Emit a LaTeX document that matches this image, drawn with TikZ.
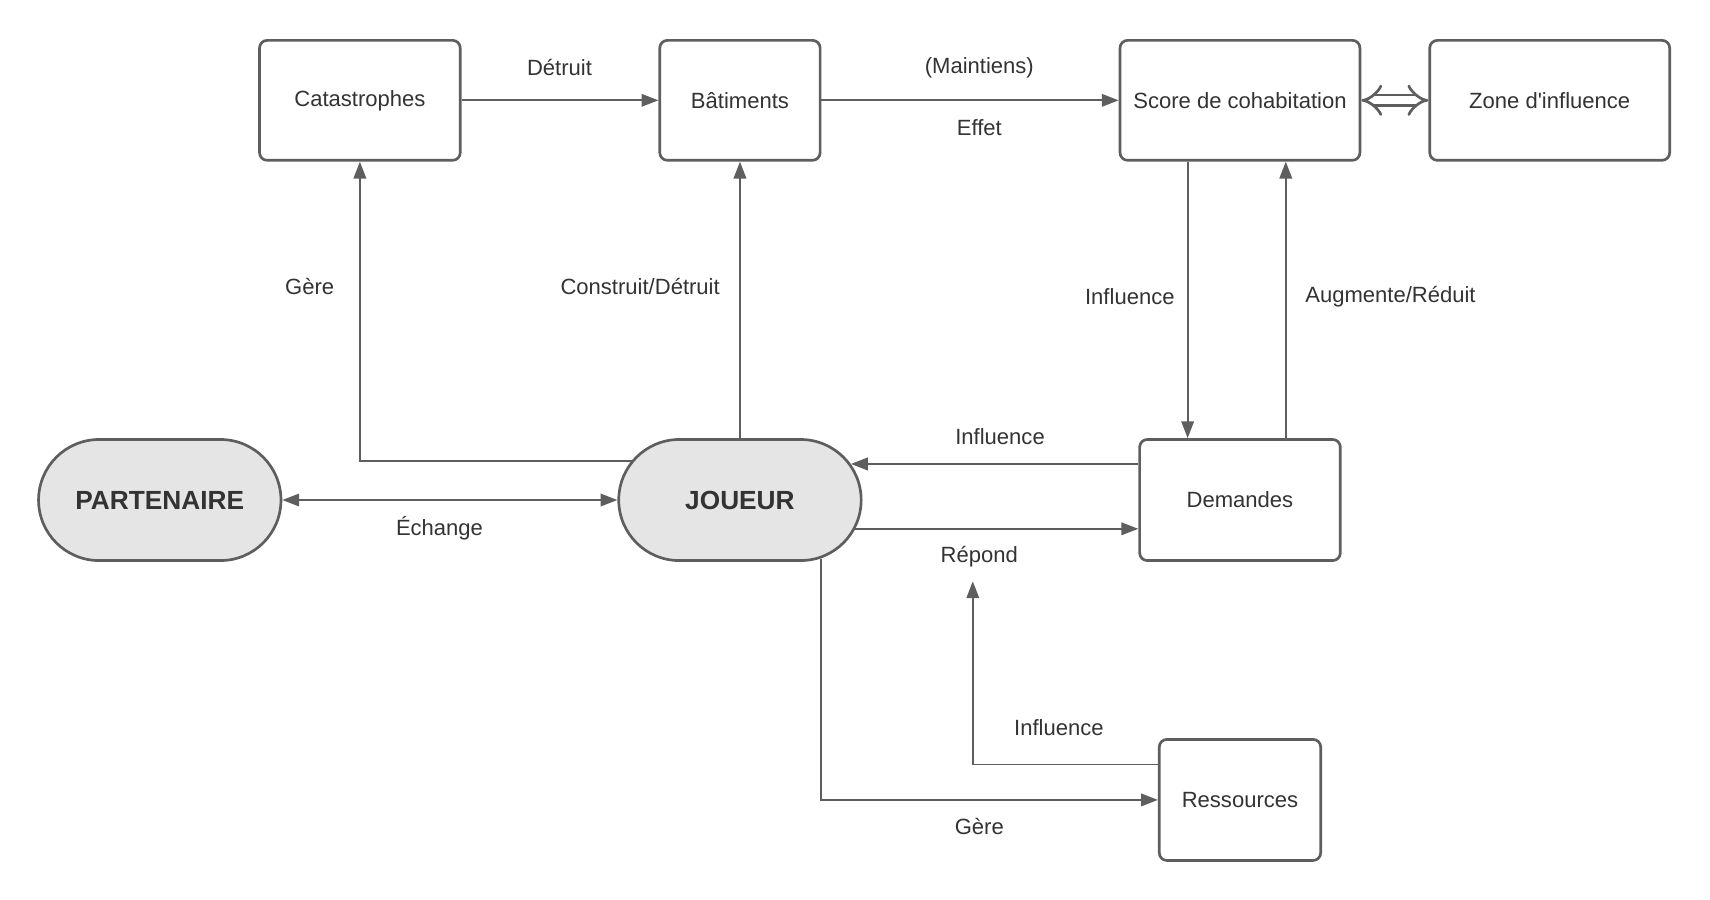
\documentclass[tikz,border=0pt]{standalone}
\usepackage{fontspec}
\setmainfont{Liberation Sans}
\usepackage{xcolor}
\usetikzlibrary{shapes.misc, arrows.meta, positioning, calc}
\definecolor{linegray}{HTML}{5E5E5E}
\definecolor{textgray}{HTML}{333333}
\definecolor{fillgray}{HTML}{E5E5E5}

\begin{document}
\begin{tikzpicture}[
    >={Triangle[length=0.31cm, width=0.23cm]},
    every node/.style={text=textgray, font=\fontsize{11.5}{14}\selectfont},
    box/.style={draw=linegray, line width=1.4pt, rounded corners=0.14cm, fill=white, minimum height=2.2cm},
    actor/.style={draw=linegray, line width=1.4pt, rounded rectangle, fill=fillgray, minimum width=4.68cm, minimum height=2.22cm, font=\fontsize{13.7}{16}\selectfont\bfseries},
    link/.style={draw=linegray, line width=1pt}
  ]
      \useasboundingbox (0,0) rectangle (31.36,16.5);

      \node[box, minimum width=3.68cm] at (6.6,14.66) (cata) {Catastrophes};
      \node[box, minimum width=2.94cm] at (13.57,14.66) (bat) {Bâtiments};
      \node[box, minimum width=4.4cm] at (22.74,14.66) (score) {Score de cohabitation};
      \node[box, minimum width=4.4cm] at (28.42,14.66) (zone) {Zone d\textquotesingle influence};

      \node[actor] at (2.93,7.33) (part) {PARTENAIRE};
      \node[actor] at (13.57,7.33) (joueur) {JOUEUR};

      \node[box, minimum width=3.68cm, minimum height=2.22cm] at (22.74,7.33) (dem) {Demandes};
      \node[box, minimum width=2.96cm, minimum height=2.22cm] at (22.74,1.83) (res) {Ressources};

      \coordinate (tip) at (17.84,5.84);

      \draw[link, ->] (cata) -- (bat);
      \draw[link, ->] (bat) -- (score);
      \draw[draw=linegray, line width=1.4pt, double, double distance=4.2pt, {Implies}-{Implies}] (score) -- (zone);

      \draw[link, ->] (joueur.160.7) -| (cata);
      \draw[link, ->] (joueur) -- (bat);
      \draw[link, <->] (part) -- (joueur);

      \draw[link, ->] ([xshift=-0.96cm]score.south) -- ([xshift=-0.96cm]score.south |- dem.north);
      \draw[link, ->] ([xshift=0.84cm]dem.north) -- ([xshift=0.84cm]dem.north |- score.south);
      \draw[link, ->] (joueur.18.7 -| dem.west) -- (joueur.18.7);
      \draw[link, ->] (joueur.-14.9) -- (joueur.-14.9 -| dem.west);
      \draw[link, ->] (joueur.-36) |- (res);
      \draw[link, ->] ([yshift=0.65cm]res.west) -| (tip);

      \node at (10.26,15.26) (lbl-detruit) {Détruit};
      \node at (17.96,15.26) (lbl-maintiens) {(Maintiens)};
      \node at (17.96,14.16) (lbl-effet) {Effet};
      \node at (5.68,11.24) (lbl-gere-cata) {Gère};
      \node at (11.74,11.24) (lbl-construit) {Construit/Détruit};
      \node at (20.72,11.06) (lbl-influence-dem) {Influence};
      \node at (25.5,11.06) (lbl-augmente) {Augmente/Réduit};
      \node at (18.34,8.5) (lbl-influence-joueur) {Influence};
      \node at (8.06,6.82) (lbl-echange) {Échange};
      \node at (17.96,6.3) (lbl-repond) {Répond};
      \node at (19.42,3.16) (lbl-influence-res) {Influence};
      \node at (17.96,1.34) (lbl-gere-res) {Gère};
    \end{tikzpicture}
\end{document}
